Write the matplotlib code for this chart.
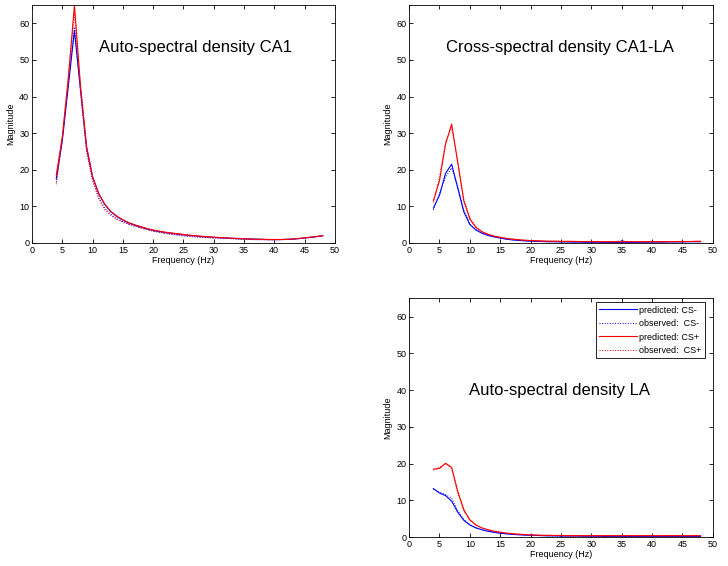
import matplotlib
matplotlib.use('Agg')
import matplotlib.pyplot as plt

plt.rcParams['font.family'] = ['Liberation Sans', 'DejaVu Sans']

# frequencies (Hz)
freq = [4, 5, 6, 7, 8, 9, 10, 11, 12, 13, 14, 15, 16, 17, 18, 19, 20, 21, 22, 23,
        24, 25, 26, 27, 28, 29, 30, 31, 32, 33, 34, 35, 36, 37, 38, 39, 40, 41, 42,
        43, 44, 45, 46, 47, 48]

# auto-spectral density CA1
ca1_pred_minus = [17.5, 28, 43, 58, 42, 26, 18, 13.5, 10.5, 8.5, 7.2, 6.2, 5.4, 4.8, 4.3,
                  3.8, 3.4, 3.1, 2.8, 2.6, 2.4, 2.2, 2.0, 1.9, 1.7, 1.6, 1.5, 1.4, 1.3, 1.25,
                  1.15, 1.1, 1.05, 1.0, 0.95, 0.9, 0.9, 0.9, 0.95, 1.0, 1.15, 1.3, 1.5, 1.7, 1.9]
ca1_obs_minus = [16.5, 28, 44, 59, 41, 25, 17, 12.5, 9.5, 7.8, 6.6, 5.8, 5.1, 4.6, 4.1,
                 3.6, 3.2, 2.9, 2.6, 2.3, 2.1, 1.9, 1.75, 1.6, 1.5, 1.4, 1.3, 1.25, 1.2, 1.1,
                 1.0, 0.95, 0.9, 0.85, 0.85, 0.8, 0.8, 0.85, 0.9, 0.95, 1.1, 1.3, 1.5, 1.7, 1.85]
ca1_pred_plus = [18.5, 29, 45, 65, 43, 26.5, 18, 13.5, 10.6, 8.6, 7.3, 6.3, 5.5, 4.9, 4.4,
                 3.9, 3.5, 3.2, 2.9, 2.7, 2.5, 2.3, 2.1, 1.95, 1.8, 1.65, 1.55, 1.45, 1.35, 1.25,
                 1.2, 1.1, 1.05, 1.0, 0.95, 0.9, 0.9, 0.9, 0.95, 1.05, 1.2, 1.35, 1.55, 1.75, 2.0]
ca1_obs_plus = [16, 29, 46, 63, 42, 25.5, 17, 12, 9, 7.5, 6.4, 5.6, 5.0, 4.5, 4.0,
                3.6, 3.2, 2.9, 2.6, 2.4, 2.2, 2.0, 1.85, 1.7, 1.55, 1.45, 1.35, 1.3, 1.25, 1.15,
                1.05, 1.0, 0.95, 0.9, 0.85, 0.85, 0.85, 0.85, 0.9, 1.0, 1.15, 1.3, 1.5, 1.7, 1.9]

# cross-spectral density CA1-LA
cross_pred_minus = [9.5, 13, 19, 21.5, 15, 8.5, 5.0, 3.5, 2.6, 2.0, 1.6, 1.3, 1.0, 0.8, 0.65,
                    0.55, 0.45, 0.4, 0.35, 0.3, 0.3, 0.25, 0.25, 0.2, 0.2, 0.15, 0.15, 0.15, 0.12, 0.1,
                    0.1, 0.1, 0.1, 0.12, 0.15, 0.15, 0.2, 0.2, 0.2, 0.25, 0.25, 0.25, 0.3, 0.3, 0.3]
cross_obs_minus = [9, 13.5, 18, 20.5, 15.5, 9, 5.2, 3.6, 2.7, 2.1, 1.7, 1.3, 1.0, 0.8, 0.7,
                   0.55, 0.45, 0.4, 0.35, 0.3, 0.3, 0.25, 0.2, 0.2, 0.25, 0.2, 0.15, 0.2, 0.15, 0.2,
                   0.35, 0.6, 0.3, 0.2, 0.15, 0.2, 0.25, 0.2, 0.25, 0.3, 0.25, 0.3, 0.3, 0.35, 0.3]
cross_pred_plus = [11.5, 17, 27, 32.5, 22, 11.5, 6.5, 4.2, 3.0, 2.3, 1.8, 1.5, 1.2, 1.0, 0.85,
                   0.7, 0.6, 0.55, 0.5, 0.45, 0.45, 0.4, 0.4, 0.4, 0.35, 0.35, 0.35, 0.3, 0.3, 0.3,
                   0.3, 0.3, 0.3, 0.3, 0.3, 0.3, 0.3, 0.3, 0.3, 0.3, 0.35, 0.35, 0.35, 0.4, 0.4]
cross_obs_plus = [11, 18, 27.5, 31.5, 22.5, 12, 6.8, 4.4, 3.1, 2.4, 1.9, 1.55, 1.25, 1.05, 0.9,
                  0.75, 0.65, 0.55, 0.5, 0.45, 0.45, 0.4, 0.4, 0.35, 0.35, 0.3, 0.35, 0.3, 0.3, 0.25,
                  0.3, 0.3, 0.25, 0.3, 0.3, 0.35, 0.3, 0.3, 0.35, 0.3, 0.35, 0.4, 0.35, 0.4, 0.45]

# auto-spectral density LA
la_pred_minus = [13.2, 12.0, 11.3, 9.8, 6.8, 4.6, 3.3, 2.5, 2.0, 1.6, 1.3, 1.05, 0.9, 0.75, 0.65,
                 0.55, 0.5, 0.45, 0.4, 0.35, 0.35, 0.3, 0.3, 0.3, 0.3, 0.25, 0.25, 0.25, 0.2, 0.2,
                 0.2, 0.2, 0.2, 0.2, 0.2, 0.2, 0.2, 0.2, 0.2, 0.2, 0.2, 0.2, 0.2, 0.2, 0.2]
la_obs_minus = [13, 12.2, 11.6, 10.6, 7.2, 4.8, 3.4, 2.6, 2.0, 1.6, 1.3, 1.1, 0.9, 0.8, 0.7,
                0.6, 0.5, 0.45, 0.4, 0.35, 0.3, 0.3, 0.3, 0.25, 0.25, 0.25, 0.2, 0.2, 0.2, 0.2,
                0.15, 0.2, 0.2, 0.15, 0.2, 0.2, 0.2, 0.15, 0.2, 0.2, 0.2, 0.2, 0.15, 0.2, 0.2]
la_pred_plus = [18.5, 18.7, 20.1, 19.0, 12.5, 7.5, 4.7, 3.3, 2.5, 2.0, 1.6, 1.35, 1.1, 0.95, 0.8,
                0.7, 0.6, 0.55, 0.5, 0.5, 0.45, 0.45, 0.4, 0.4, 0.4, 0.4, 0.4, 0.4, 0.4, 0.4,
                0.4, 0.4, 0.4, 0.4, 0.4, 0.4, 0.4, 0.4, 0.4, 0.4, 0.4, 0.4, 0.4, 0.4, 0.4]
la_obs_plus = [18.2, 19.0, 20.0, 18.6, 12.0, 7.2, 4.6, 3.3, 2.5, 2.0, 1.6, 1.35, 1.1, 0.95, 0.8,
               0.7, 0.6, 0.55, 0.5, 0.45, 0.45, 0.4, 0.4, 0.35, 0.35, 0.35, 0.35, 0.3, 0.35, 0.35,
               0.3, 0.35, 0.35, 0.3, 0.35, 0.35, 0.35, 0.3, 0.35, 0.35, 0.35, 0.3, 0.35, 0.35, 0.35]

labels = ['predicted: CS-', 'observed:  CS-', 'predicted: CS+', 'observed:  CS+']


def draw_panel(ax, pm, om, pp, op, title, tx, ty):
    ax.plot(freq, pm, color='#0000ff', lw=0.8, label=labels[0])
    ax.plot(freq, om, color='#0000ff', lw=0.7, ls=':', label=labels[1])
    ax.plot(freq, pp, color='#ff0000', lw=0.8, label=labels[2])
    ax.plot(freq, op, color='#ff0000', lw=0.7, ls=':', label=labels[3])
    ax.set_xlim(0, 50)
    ax.set_ylim(0, 65)
    ax.set_xticks(range(0, 51, 5))
    ax.set_yticks(range(0, 61, 10))
    ax.tick_params(direction='in', top=True, right=True, length=3, width=0.6,
                   labelsize=6.5, pad=2)
    for s in ax.spines.values():
        s.set_linewidth(0.6)
    ax.set_xlabel('Frequency (Hz)', fontsize=6.5, labelpad=1)
    ax.set_ylabel('Magnitude', fontsize=6.5, labelpad=3)
    ax.text(tx, ty, title, fontsize=12, ha='center', va='center')


fig = plt.figure(figsize=(7.28, 5.66), dpi=100)

ax1 = fig.add_axes([0.044, 0.571, 0.416, 0.420])
draw_panel(ax1, ca1_pred_minus, ca1_obs_minus, ca1_pred_plus, ca1_obs_plus,
           'Auto-spectral density CA1', 27, 53.5)

ax2 = fig.add_axes([0.562, 0.571, 0.417, 0.420])
draw_panel(ax2, cross_pred_minus, cross_obs_minus, cross_pred_plus, cross_obs_plus,
           'Cross-spectral density CA1-LA', 24.8, 53.5)

ax3 = fig.add_axes([0.562, 0.051, 0.417, 0.422])
draw_panel(ax3, la_pred_minus, la_obs_minus, la_pred_plus, la_obs_plus,
           'Auto-spectral density LA', 24.8, 40)
leg = ax3.legend(loc='upper right', bbox_to_anchor=(0.974, 0.983), fontsize=6.5,
                 handlelength=4.2, handletextpad=0.3, labelspacing=0.5, borderpad=0.35,
                 borderaxespad=0, fancybox=False, framealpha=1, edgecolor='black')
leg.get_frame().set_linewidth(0.6)

fig.savefig('out.png', dpi=100)
